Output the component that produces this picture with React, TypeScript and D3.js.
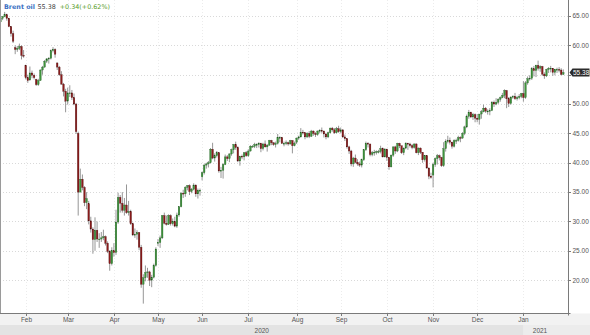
import React from 'react';
import * as d3 from 'd3';

// [day, open, high, low, close]
type Row = [number, number, number, number, number];

const jan2020: Row[] = [
  [16, 64.0, 64.7, 63.9, 64.6], [17, 64.6, 65.0, 64.3, 64.9], [20, 64.9, 65.7, 64.8, 65.2],
  [21, 65.2, 65.4, 64.2, 64.6], [22, 64.6, 64.7, 63.1, 63.2], [23, 63.2, 63.3, 61.5, 62.0],
  [24, 62.0, 62.5, 60.4, 60.7], [27, 59.6, 60.0, 58.5, 59.3], [28, 59.3, 59.9, 58.9, 59.5],
  [29, 59.5, 60.3, 59.2, 59.8], [30, 59.8, 60.0, 57.6, 58.3], [31, 58.3, 59.2, 57.9, 58.2],
];
const feb2020: Row[] = [
  [3, 56.6, 56.7, 54.2, 54.5], [4, 54.5, 55.0, 53.6, 54.0], [5, 54.1, 56.4, 54.0, 55.3],
  [6, 55.3, 55.7, 54.4, 54.9], [7, 54.9, 55.2, 54.2, 54.5], [10, 54.2, 54.3, 53.1, 53.3],
  [11, 53.3, 54.3, 53.1, 54.0], [12, 54.0, 55.9, 54.0, 55.8], [13, 55.8, 56.5, 55.0, 56.3],
  [14, 56.3, 57.5, 56.2, 57.3], [17, 57.3, 57.8, 57.0, 57.7], [18, 57.7, 58.0, 56.9, 57.8],
  [19, 57.8, 59.3, 57.6, 59.1], [20, 59.1, 59.7, 58.8, 59.3], [21, 59.3, 59.5, 57.9, 58.5],
  [24, 57.0, 57.1, 55.8, 56.3], [25, 56.3, 56.5, 54.8, 55.0], [26, 55.0, 55.6, 53.3, 53.4],
  [27, 53.4, 53.6, 51.3, 52.2], [28, 52.2, 52.6, 48.6, 50.5],
];
const mar2020: Row[] = [
  [2, 50.5, 52.8, 49.9, 51.9], [3, 51.9, 53.2, 51.2, 51.9], [4, 51.9, 52.4, 50.7, 51.1],
  [5, 51.1, 51.8, 49.8, 50.0], [6, 50.0, 50.2, 44.9, 45.3], [9, 45.0, 45.3, 31.0, 35.0],
  [10, 35.0, 39.0, 35.0, 37.2], [11, 37.2, 38.0, 35.3, 35.8], [12, 35.8, 36.0, 32.6, 33.2],
  [13, 33.2, 35.0, 32.1, 33.9], [16, 33.0, 33.5, 29.5, 30.1], [17, 30.1, 30.8, 28.1, 28.7],
  [18, 28.7, 29.0, 24.5, 26.9], [19, 26.9, 30.7, 25.0, 28.5], [20, 28.5, 30.0, 26.5, 27.0],
  [23, 27.0, 28.0, 25.5, 27.0], [24, 27.0, 28.2, 26.5, 27.2], [25, 27.2, 28.6, 26.8, 27.4],
  [26, 27.4, 27.6, 25.9, 26.3], [27, 26.3, 26.6, 24.6, 24.9], [30, 24.9, 25.1, 21.6, 22.8],
  [31, 22.8, 25.6, 22.5, 25.0],
];
const apr2020: Row[] = [
  [1, 25.0, 26.3, 24.0, 24.7], [2, 24.7, 32.0, 24.3, 29.9], [3, 29.9, 34.9, 29.6, 34.1],
  [6, 34.1, 34.5, 31.5, 33.1], [7, 33.1, 35.0, 31.5, 31.9], [8, 31.9, 34.0, 31.0, 32.8],
  [9, 32.8, 36.3, 31.3, 31.5], [13, 31.5, 33.5, 31.0, 31.7], [14, 31.7, 32.0, 29.4, 29.6],
  [15, 29.6, 29.8, 27.5, 27.7], [16, 27.7, 28.8, 27.2, 27.8], [17, 27.8, 28.5, 26.9, 28.1],
  [20, 28.1, 28.2, 25.1, 25.6], [21, 25.6, 26.0, 18.7, 19.3], [22, 19.3, 21.0, 16.0, 20.4],
  [23, 20.4, 22.5, 19.8, 21.3], [24, 21.3, 22.1, 20.4, 21.4], [27, 21.4, 21.6, 19.0, 20.0],
  [28, 20.0, 20.9, 18.8, 20.5], [29, 20.5, 22.8, 20.3, 22.5], [30, 22.5, 25.6, 22.3, 25.3],
];
const may2020: Row[] = [
  [1, 26.4, 27.0, 25.8, 26.4], [4, 26.4, 27.6, 25.5, 27.2], [5, 27.2, 31.1, 27.0, 31.0],
  [6, 31.0, 31.5, 29.5, 29.7], [7, 29.7, 31.0, 29.3, 29.5], [8, 29.5, 31.2, 29.4, 31.0],
  [11, 31.0, 31.2, 29.3, 29.6], [12, 29.6, 30.5, 29.3, 30.0], [13, 30.0, 30.8, 29.0, 29.2],
  [14, 29.2, 31.5, 28.9, 31.1], [15, 31.1, 32.6, 30.8, 32.5], [18, 32.5, 35.0, 32.4, 34.8],
  [19, 34.8, 35.4, 34.0, 34.7], [20, 34.7, 36.0, 34.2, 35.8], [21, 35.8, 36.2, 35.3, 36.1],
  [22, 36.1, 36.3, 34.5, 35.1], [25, 35.1, 35.7, 34.8, 35.5], [26, 35.5, 36.5, 35.3, 36.2],
  [27, 36.2, 36.3, 34.2, 34.7], [28, 34.7, 35.6, 33.9, 35.3], [29, 35.3, 35.6, 34.4, 35.3],
];
const jun2020: Row[] = [
  [1, 37.6, 38.5, 37.0, 38.3], [2, 38.3, 39.8, 38.0, 39.6], [3, 39.6, 40.0, 39.0, 39.8],
  [4, 39.8, 40.3, 39.2, 40.0], [5, 40.0, 42.5, 39.9, 42.3], [8, 42.3, 43.4, 40.6, 40.8],
  [9, 40.8, 41.6, 40.2, 41.2], [10, 41.2, 42.0, 40.9, 41.7], [11, 41.7, 41.8, 38.3, 38.6],
  [12, 38.6, 39.3, 37.4, 38.7], [15, 38.7, 39.9, 37.3, 39.7], [16, 39.7, 41.4, 39.6, 41.0],
  [17, 41.0, 41.3, 40.3, 40.7], [18, 40.7, 41.6, 40.1, 41.5], [19, 41.5, 42.4, 41.2, 42.2],
  [22, 42.2, 43.2, 41.6, 43.1], [23, 43.1, 43.6, 42.2, 42.6], [24, 42.6, 42.8, 40.1, 40.3],
  [25, 40.3, 41.2, 39.5, 41.1], [26, 41.1, 41.4, 40.6, 41.0], [29, 41.0, 41.8, 40.4, 41.7],
  [30, 41.7, 42.0, 41.0, 41.2],
];
const jul2020: Row[] = [
  [1, 41.2, 42.3, 41.0, 42.0], [2, 42.0, 43.0, 41.9, 42.8], [3, 42.8, 43.0, 42.6, 42.8],
  [6, 42.8, 43.4, 42.5, 43.1], [7, 43.1, 43.3, 42.5, 43.1], [8, 43.1, 43.5, 42.6, 43.3],
  [9, 43.3, 43.4, 41.8, 42.4], [10, 42.4, 43.4, 42.1, 43.2], [13, 43.2, 43.8, 42.6, 42.7],
  [14, 42.7, 43.2, 41.9, 43.0], [15, 43.0, 43.9, 42.9, 43.8], [16, 43.8, 43.9, 43.0, 43.4],
  [17, 43.4, 43.5, 42.9, 43.1], [20, 43.1, 43.6, 42.6, 43.3], [21, 43.3, 44.9, 43.1, 44.3],
  [22, 44.3, 44.5, 43.5, 44.3], [23, 44.3, 44.4, 43.2, 43.3], [24, 43.3, 43.6, 42.8, 43.3],
  [27, 43.3, 43.8, 43.0, 43.4], [28, 43.4, 43.6, 42.9, 43.2], [29, 43.2, 43.9, 43.1, 43.8],
  [30, 43.8, 43.8, 41.6, 42.9], [31, 42.9, 43.6, 42.8, 43.3],
];
const aug2020: Row[] = [
  [3, 43.5, 44.3, 43.2, 44.2], [4, 44.2, 44.6, 43.9, 44.4], [5, 44.4, 45.9, 44.3, 45.2],
  [6, 45.2, 45.6, 44.8, 45.1], [7, 45.1, 45.2, 44.0, 44.4], [10, 44.4, 45.2, 44.2, 45.0],
  [11, 45.0, 45.4, 44.2, 44.5], [12, 44.5, 45.6, 44.4, 45.4], [13, 45.4, 45.5, 44.6, 45.0],
  [14, 45.0, 45.2, 44.4, 44.8], [17, 44.8, 45.5, 44.6, 45.4], [18, 45.4, 45.7, 45.0, 45.5],
  [19, 45.5, 46.0, 45.1, 45.4], [20, 45.4, 45.5, 44.3, 44.9], [21, 44.9, 45.1, 44.0, 44.4],
  [24, 44.4, 45.3, 44.2, 45.1], [25, 45.1, 46.0, 45.0, 45.9], [26, 45.9, 46.1, 45.3, 45.6],
  [27, 45.6, 45.9, 44.9, 45.1], [28, 45.1, 46.1, 45.0, 45.8], [31, 45.8, 46.3, 45.1, 45.3],
];
const sep2020: Row[] = [
  [1, 45.3, 46.0, 45.0, 45.6], [2, 45.6, 45.7, 44.2, 44.4], [3, 44.4, 44.8, 43.7, 44.1],
  [4, 44.1, 44.2, 42.4, 42.7], [7, 42.7, 42.9, 41.5, 42.0], [8, 42.0, 42.2, 39.4, 39.8],
  [9, 39.8, 41.0, 39.3, 40.8], [10, 40.8, 41.4, 39.9, 40.1], [11, 40.1, 40.6, 39.5, 39.8],
  [14, 39.8, 40.2, 39.3, 39.6], [15, 39.6, 40.7, 39.2, 40.5], [16, 40.5, 42.3, 40.3, 42.2],
  [17, 42.2, 43.6, 42.0, 43.3], [18, 43.3, 43.5, 42.6, 43.2], [21, 43.2, 43.2, 41.1, 41.4],
  [22, 41.4, 42.0, 41.1, 41.7], [23, 41.7, 42.2, 41.2, 41.8], [24, 41.8, 42.1, 41.4, 41.9],
  [25, 41.9, 42.2, 41.6, 41.9], [28, 41.9, 42.9, 41.6, 42.4], [29, 42.4, 42.6, 40.9, 41.0],
  [30, 41.0, 42.5, 40.9, 42.3],
];
const oct2020: Row[] = [
  [1, 42.3, 42.4, 40.3, 40.9], [2, 40.9, 41.0, 38.8, 39.3], [5, 39.3, 41.4, 39.2, 41.3],
  [6, 41.3, 42.8, 41.0, 42.7], [7, 42.7, 42.9, 41.5, 42.0], [8, 42.0, 43.4, 41.8, 43.3],
  [9, 43.3, 43.4, 42.5, 42.9], [12, 42.9, 42.9, 41.5, 41.7], [13, 41.7, 42.6, 41.3, 42.5],
  [14, 42.5, 43.5, 42.3, 43.3], [15, 43.3, 43.4, 42.2, 43.2], [16, 43.2, 43.4, 42.6, 42.9],
  [19, 42.9, 43.2, 42.3, 42.6], [20, 42.6, 43.3, 42.4, 43.2], [21, 43.2, 43.3, 41.6, 41.7],
  [22, 41.7, 42.6, 41.3, 42.5], [23, 42.5, 42.6, 41.5, 41.8], [26, 41.8, 41.8, 40.0, 40.5],
  [27, 40.5, 41.3, 40.2, 41.2], [28, 41.2, 41.3, 39.0, 39.1], [29, 39.1, 39.2, 37.2, 37.7],
  [30, 37.7, 38.3, 37.3, 37.5],
];
const nov2020: Row[] = [
  [2, 37.9, 40.0, 35.8, 39.7], [3, 39.7, 40.9, 39.3, 40.7], [4, 40.7, 41.5, 39.7, 41.2],
  [5, 41.2, 41.4, 40.4, 40.9], [6, 40.9, 41.0, 39.3, 39.5], [9, 39.5, 43.5, 39.3, 42.4],
  [10, 42.4, 44.0, 41.9, 43.6], [11, 43.6, 44.6, 43.3, 43.8], [12, 43.8, 44.3, 43.1, 43.5],
  [13, 43.5, 43.6, 42.4, 42.8], [16, 42.8, 44.0, 42.6, 43.8], [17, 43.8, 44.1, 43.2, 43.8],
  [18, 43.8, 44.6, 43.6, 44.3], [19, 44.3, 44.5, 43.5, 44.2], [20, 44.2, 45.2, 44.1, 45.0],
  [23, 45.0, 46.3, 44.7, 46.1], [24, 46.1, 48.2, 45.9, 47.9], [25, 47.9, 49.0, 47.5, 48.6],
  [26, 48.6, 48.7, 47.6, 47.8], [27, 47.8, 48.5, 47.3, 48.2], [30, 48.2, 48.4, 46.9, 47.6],
];
const dec2020: Row[] = [
  [1, 47.6, 48.3, 46.9, 47.4], [2, 47.4, 48.3, 46.5, 48.3], [3, 48.3, 49.0, 47.5, 48.7],
  [4, 48.7, 49.9, 48.6, 49.3], [7, 49.3, 49.5, 48.5, 48.8], [8, 48.8, 49.1, 48.2, 48.8],
  [9, 48.8, 49.3, 48.1, 48.9], [10, 48.9, 50.5, 48.8, 50.3], [11, 50.3, 50.6, 49.5, 50.0],
  [14, 50.0, 51.0, 49.8, 50.3], [15, 50.3, 51.0, 50.0, 50.8], [16, 50.8, 51.3, 50.4, 51.1],
  [17, 51.1, 51.9, 51.0, 51.5], [18, 51.5, 52.5, 51.0, 52.3], [21, 52.3, 52.4, 49.3, 50.9],
  [22, 50.9, 51.2, 49.5, 50.1], [23, 50.1, 51.3, 49.9, 51.2], [24, 51.2, 51.5, 50.9, 51.3],
  [28, 51.3, 51.9, 50.7, 50.9], [29, 50.9, 51.4, 50.6, 51.1], [30, 51.1, 51.7, 50.8, 51.3],
  [31, 51.3, 51.9, 51.0, 51.8],
];
const jan2021: Row[] = [
  [4, 51.8, 53.9, 50.4, 51.1], [5, 51.1, 53.9, 50.9, 53.6], [6, 53.6, 54.7, 53.3, 54.3],
  [7, 54.3, 54.9, 54.0, 54.4], [8, 54.4, 56.3, 54.1, 56.0], [11, 56.0, 56.5, 54.7, 55.7],
  [12, 55.7, 56.7, 54.6, 56.6], [13, 56.6, 57.4, 55.7, 56.1], [14, 56.1, 56.6, 55.5, 56.4],
  [15, 56.4, 56.5, 54.8, 55.1], [18, 55.1, 55.4, 54.3, 54.8], [19, 54.8, 56.0, 54.6, 55.9],
  [20, 55.9, 56.3, 55.3, 56.1], [21, 56.1, 56.5, 55.4, 56.1], [22, 56.1, 56.1, 54.8, 55.4],
  [25, 55.4, 56.0, 54.9, 55.9], [26, 55.9, 56.2, 55.3, 55.9], [27, 55.9, 56.3, 55.4, 55.8],
  [28, 55.8, 56.1, 54.9, 55.04], [29, 55.04, 55.9, 55.0, 55.38],
];

const monthBlocks: [number, number, Row[]][] = [
  [2020, 0, jan2020], [2020, 1, feb2020], [2020, 2, mar2020], [2020, 3, apr2020],
  [2020, 4, may2020], [2020, 5, jun2020], [2020, 6, jul2020], [2020, 7, aug2020],
  [2020, 8, sep2020], [2020, 9, oct2020], [2020, 10, nov2020], [2020, 11, dec2020],
  [2021, 0, jan2021],
];

const monthNames = ['Jan', 'Feb', 'Mar', 'Apr', 'May', 'Jun', 'Jul', 'Aug', 'Sep', 'Oct', 'Nov', 'Dec'];
const yTicks = [20, 25, 30, 35, 40, 45, 50, 55, 60, 65];
const instrument = 'Brent oil';
const lastPrice = '55.38';
const lastValue = 55.38;
const change = '+0.34(+0.62%)';

const W = 590;
const H = 335;
const plotRight = 568.5;
const plotBottom = 313.5;

export default function App() {
  const data = monthBlocks.flatMap(([yr, mo, rows]) =>
    rows.map((r) => ({ date: new Date(yr, mo, r[0]), o: r[1], h: r[2], l: r[3], c: r[4] }))
  );
  const n = data.length;
  const x = d3.scaleLinear().domain([0, n - 1]).range([0.5, 0.5 + 2.1 * (n - 1)]);
  const y = d3.scaleLinear().domain([14.4, 67.73]).range([313, 0]);

  const monthTicks: { i: number; label: string; year: number }[] = [];
  data.forEach((d, i) => {
    if (i > 0 && d.date.getMonth() !== data[i - 1].date.getMonth()) {
      monthTicks.push({ i, label: monthNames[d.date.getMonth()], year: d.date.getFullYear() });
    }
  });
  const yearStart = monthTicks.find((t) => t.year === 2021)!;
  const yearX = Math.round(x(yearStart.i)) + 0.5;

  const font = 'Liberation Sans, Arial, sans-serif';
  const up = '#3f943c';
  const down = '#8c1c1c';
  const markerY = y(lastValue);

  return (
    <svg
      width={W}
      height={H}
      style={{ position: 'fixed', left: 0, top: 0, display: 'block', background: '#fff' }}
    >
      {/* bottom bands */}
      <rect x={0} y={plotBottom} width={W} height={H - plotBottom} fill="#f2f2f2" />
      <rect x={0} y={325} width={yearX} height={10} fill="#e3e3e3" />
      <rect x={yearX} y={325} width={W - yearX} height={10} fill="#ececec" />

      {/* grid */}
      {yTicks.map((v) => (
        <line
          key={'hg' + v}
          x1={0}
          x2={plotRight}
          y1={Math.round(y(v)) + 0.5}
          y2={Math.round(y(v)) + 0.5}
          stroke="#d9d9d9"
          strokeDasharray="1,2"
        />
      ))}
      {monthTicks.map((t) => (
        <line
          key={'vg' + t.i}
          x1={Math.round(x(t.i)) + 0.5}
          x2={Math.round(x(t.i)) + 0.5}
          y1={0}
          y2={plotBottom}
          stroke="#ececec"
          strokeDasharray="1,2"
        />
      ))}

      {/* candles */}
      {data.map((d, i) => {
        const cx = x(i);
        const isUp = d.c >= d.o;
        const top = y(Math.max(d.o, d.c));
        const bot = y(Math.min(d.o, d.c));
        return (
          <g key={'c' + i}>
            <line x1={cx} x2={cx} y1={y(d.h)} y2={y(d.l)} stroke="#8a8a8a" strokeWidth={0.9} />
            <rect
              x={cx - 0.8}
              y={top}
              width={1.6}
              height={Math.max(0.8, bot - top)}
              fill={isUp ? up : down}
              stroke={isUp ? '#1f5a1f' : '#4a0c0c'}
              strokeWidth={0.3}
            />
          </g>
        );
      })}

      {/* axes */}
      <line x1={0.5} x2={0.5} y1={0} y2={plotBottom} stroke="#9a9a9a" />
      <line x1={0} x2={plotRight + 2} y1={plotBottom} y2={plotBottom} stroke="#7a7a7a" />
      <line x1={plotRight} x2={plotRight} y1={0} y2={plotBottom + 2} stroke="#7a7a7a" />
      {monthTicks.map((t) => (
        <g key={'mt' + t.i}>
          <line
            x1={Math.round(x(t.i)) + 0.5}
            x2={Math.round(x(t.i)) + 0.5}
            y1={plotBottom}
            y2={plotBottom + 2.5}
            stroke="#7a7a7a"
          />
          <text
            x={Math.round(x(t.i)) + 0.5}
            y={321.5}
            textAnchor="middle"
            fontFamily={font}
            fontSize={6.5}
            fill="#555"
          >
            {t.label}
          </text>
        </g>
      ))}
      <text x={yearX / 2} y={332.5} textAnchor="middle" fontFamily={font} fontSize={6.5} fill="#555">
        2020
      </text>
      <text x={540} y={332.5} textAnchor="middle" fontFamily={font} fontSize={6.5} fill="#555">
        2021
      </text>
      {yTicks.map((v) => (
        <g key={'yt' + v}>
          <line
            x1={plotRight}
            x2={plotRight + 2.5}
            y1={Math.round(y(v)) + 0.5}
            y2={Math.round(y(v)) + 0.5}
            stroke="#7a7a7a"
          />
          {Math.abs(y(v) - markerY) > 6 && (
            <text x={572.5} y={y(v) + 2.4} fontFamily={font} fontSize={6.5} fill="#555">
              {v.toFixed(2)}
            </text>
          )}
        </g>
      ))}

      {/* last price marker (covers the 55.00 label, as in the original) */}
      <g>
        <path
          d={`M${plotRight + 1},${markerY} L${plotRight + 4},${markerY - 4} H${W - 0.5} V${markerY + 4} H${plotRight + 4} Z`}
          fill="#2b2b2b"
        />
        <text x={573} y={markerY + 2.4} fontFamily={font} fontSize={6.5} fill="#fff">
          {lastPrice}
        </text>
      </g>

      {/* header */}
      <text x={4} y={9} fontFamily="DejaVu Sans, Verdana, sans-serif" fontSize={6.4}>
        <tspan fill="#3a6fc2" fontWeight="bold">
          {instrument}
        </tspan>
        <tspan dx={2.5} fill="#444">
          {lastPrice}
        </tspan>
        <tspan dx={4} fill="#5a9e2c">
          {change}
        </tspan>
      </text>
    </svg>
  );
}
